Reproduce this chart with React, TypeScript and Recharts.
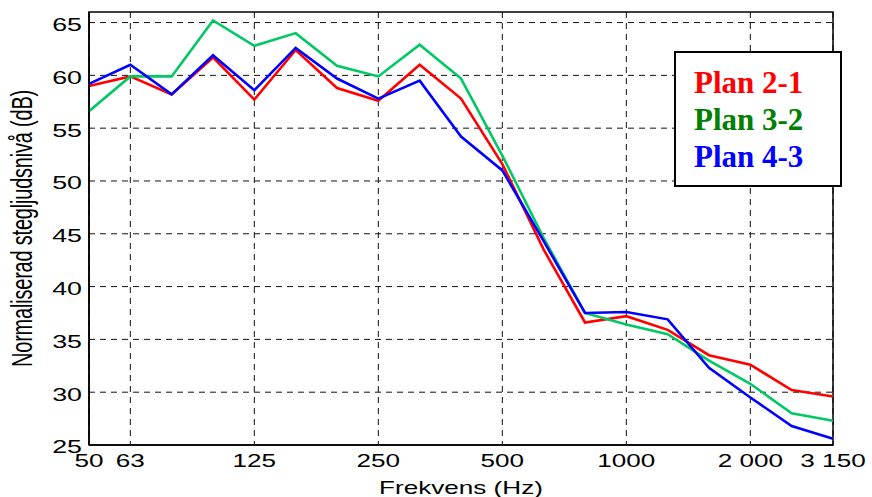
import React from "react";
import { LineChart, Line, XAxis, YAxis, CartesianGrid, Legend, Label, ReferenceArea } from "recharts";

const freqLabels = ["50","63","80","100","125","160","200","250","315","400","500","630","800","1000","1250","1600","2000","2500","3150"];
const plan21 = [59.0, 59.9, 58.2, 61.7, 57.7, 62.4, 58.8, 57.6, 61.0, 57.8, 51.6, 43.5, 36.6, 37.2, 35.9, 33.5, 32.6, 30.2, 29.6];
const plan32 = [56.6, 59.9, 59.9, 65.2, 62.8, 64.0, 60.9, 59.9, 62.9, 59.7, 52.4, 44.6, 37.5, 36.4, 35.5, 33.0, 30.8, 28.0, 27.3];
const plan43 = [59.2, 61.0, 58.2, 61.9, 58.6, 62.6, 59.7, 57.8, 59.5, 54.2, 51.0, 44.3, 37.5, 37.6, 36.9, 32.3, 29.5, 26.8, 25.6];
const xTickIndex = [0, 1, 4, 7, 10, 13, 16, 18];
const xTickLabels = ["50", "63", "125", "250", "500", "1000", "2 000", "3 150"];
const yTicks = [25, 30, 35, 40, 45, 50, 55, 60, 65];

const data = freqLabels.map((f, i) => ({ i, f, p21: plan21[i], p32: plan32[i], p43: plan43[i] }));

const series = [
  { key: "p21", name: "Plan 2-1", color: "#ff0000", text: "#ff0000" },
  { key: "p32", name: "Plan 3-2", color: "#00c864", text: "#008000" },
  { key: "p43", name: "Plan 4-3", color: "#0000ff", text: "#0000ff" },
];

const AX_FONT = "Liberation Sans, Arial, sans-serif";
const SX = 1.45;

const XTick = (props: any) => {
  const { x, y, payload } = props;
  const idx = xTickIndex.indexOf(payload.value);
  const label = idx >= 0 ? xTickLabels[idx] : "";
  return (
    <text transform={`translate(${x},${y + 8}) scale(${SX},1)`} textAnchor="middle" dominantBaseline="central"
      fontFamily={AX_FONT} fontSize={18} fill="#000">{label}</text>
  );
};

const YTick = (props: any) => {
  const { x, y, payload } = props;
  return (
    <text transform={`translate(${x + 1},${y + 2}) scale(${SX},1)`} textAnchor="end" dominantBaseline="central"
      fontFamily={AX_FONT} fontSize={18.5} fill="#000">{payload.value}</text>
  );
};

const LegendBox = (props: any) => {
  const payload = props.payload || [];
  return (
    <div style={{ width: 168, height: 136, boxSizing: "border-box", border: "2px solid #000", background: "#fff",
      paddingTop: 11, paddingLeft: 18 }}>
      {payload.map((p: any) => {
        const s = series.find((q) => q.name === p.value);
        return (
          <div key={p.value} style={{ fontFamily: "Liberation Serif, Times New Roman, serif", fontWeight: "bold",
            fontSize: 31, lineHeight: "37px", color: s ? s.text : p.color, whiteSpace: "nowrap" }}>{p.value}</div>
        );
      })}
    </div>
  );
};

export default function App() {
  return (
    <div style={{ position: "absolute", left: 0, top: 0, width: 872, height: 497, background: "#fff" }}>
      <LineChart width={872} height={497} data={data} margin={{ top: 12, right: 39, bottom: 0, left: 0 }}>
        <CartesianGrid stroke="#111" strokeDasharray="6 5" strokeWidth={1}
          horizontalValues={[30, 35, 40, 45, 50, 55, 60, 65]} verticalValues={xTickIndex} />
        <XAxis dataKey="i" type="number" domain={[0, 18]} ticks={xTickIndex} interval={0} height={52}
          tickLine={false} axisLine={{ stroke: "#000", strokeWidth: 1.5 }} tick={<XTick />}>
          <Label content={(p: any) => {
            const vb = p.viewBox;
            const cx = vb.x + vb.width / 2;
            return (
              <text transform={`translate(${cx},488) scale(${SX},1)`} textAnchor="middle" dominantBaseline="central"
                fontFamily={AX_FONT} fontSize={18} fill="#000">Frekvens (Hz)</text>
            );
          }} />
        </XAxis>
        <YAxis type="number" domain={[25, 66]} ticks={yTicks} interval={0} width={89} tickLine={false}
          axisLine={{ stroke: "#000", strokeWidth: 1.5 }} tick={<YTick />}>
          <Label content={(p: any) => {
            const vb = p.viewBox;
            const cy = vb.y + vb.height / 2;
            return (
              <text transform={`translate(22,${cy}) scale(${SX},1) rotate(-90)`} textAnchor="middle" dominantBaseline="central"
                fontFamily={AX_FONT} fontSize={20} fill="#000" letterSpacing={-0.2}>Normaliserad stegljudsnivå (dB)</text>
            );
          }} />
        </YAxis>
        <ReferenceArea x1={0} x2={18} y1={25} y2={66} fill="none" stroke="#000" strokeWidth={1.5} />
        {series.map((s) => (
          <Line key={s.key} dataKey={s.key} name={s.name} stroke={s.color} strokeWidth={2.6} dot={false}
            type="linear" isAnimationActive={false} />
        ))}
        <Legend layout="vertical" align="center" verticalAlign="middle" content={<LegendBox />}
          wrapperStyle={{ position: "absolute", left: 674, top: 51, width: 168, height: 136 }} />
      </LineChart>
    </div>
  );
}
